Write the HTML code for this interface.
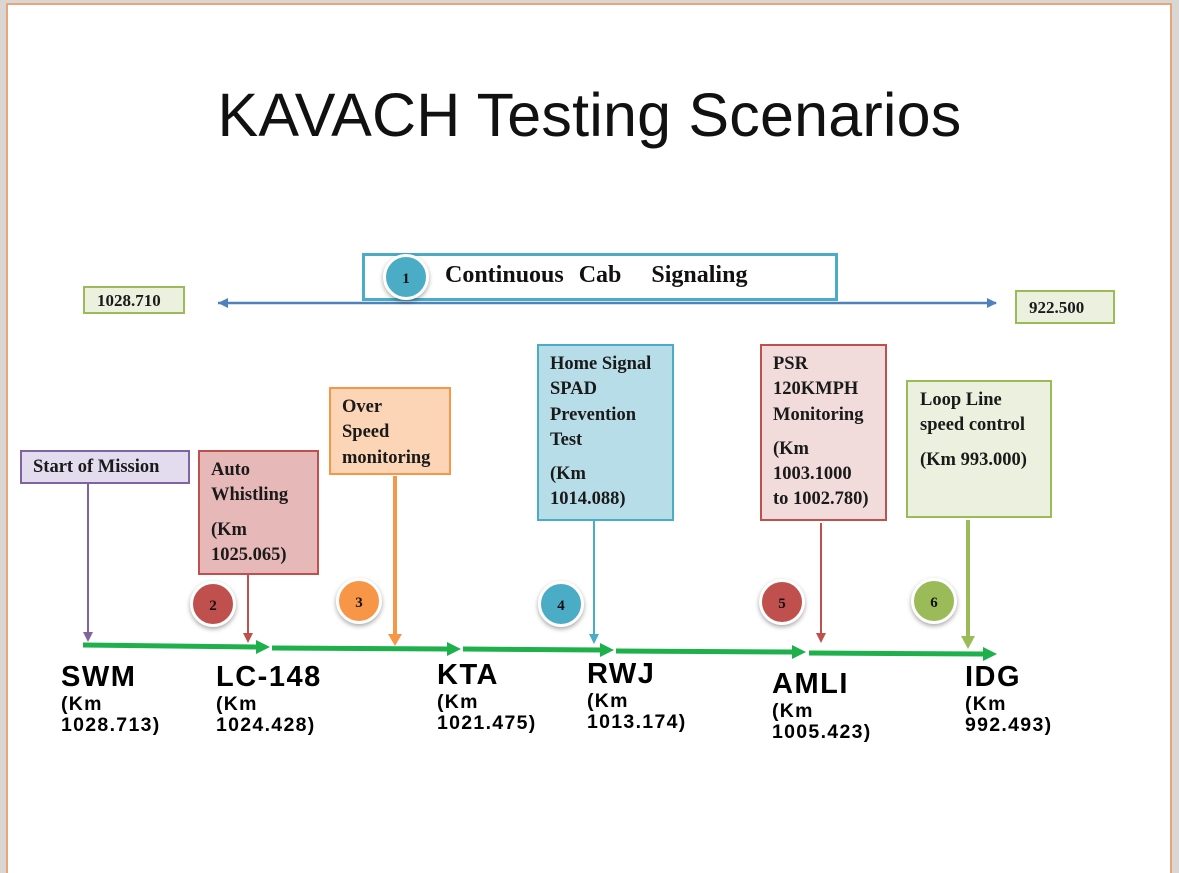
<!DOCTYPE html>
<html><head><meta charset="utf-8"><style>
*{margin:0;padding:0;box-sizing:border-box}
body{width:1179px;height:860px;background:#d9d6d4;position:relative;overflow:hidden;font-family:"Liberation Serif",serif}
#page{position:absolute;left:6px;top:3px;width:1166px;height:870px;background:#fff;border:2px solid #e8a57a;border-bottom:none}
.a{position:absolute}
.box{position:absolute;font-weight:bold;font-size:18.5px;line-height:25.3px;padding:5px 11px;color:#1a1a1a;white-space:nowrap}
.st{position:absolute;font-family:"Liberation Sans",sans-serif;font-weight:bold;color:#000}
.st b{display:block;font-size:29px;line-height:34px;letter-spacing:1.5px}
.st i{display:block;font-style:normal;font-size:19.5px;line-height:21px;letter-spacing:1.3px}
.num{position:absolute;width:46px;height:46px;border-radius:50%;border:3px solid #fff;box-shadow:0 2px 5px rgba(0,0,0,.35);color:#111;font-weight:bold;font-size:15px;text-align:center;line-height:44px}
</style></head><body>
<div id="page"></div>
<div class="a" style="left:0;top:80px;width:1179px;text-align:center;font-family:'Liberation Sans',sans-serif;font-size:61px;color:#111;letter-spacing:0.2px">KAVACH Testing Scenarios</div>

<svg class="a" style="left:0;top:0" width="1179" height="860">
<line x1="218" y1="303" x2="996" y2="303" stroke="#4f81bd" stroke-width="2.5"/>
<path d="M218,303 l10,-5 v10z" fill="#4f81bd"/><path d="M997,303 l-10,-5 v10z" fill="#4f81bd"/>
<g stroke="#1db04b" stroke-width="5" fill="#1db04b">
<line x1="83" y1="645" x2="258" y2="647"/><path d="M270,647 l-14,-7 v14z" stroke="none"/>
<line x1="272" y1="648" x2="448" y2="649"/><path d="M461,649 l-14,-7 v14z" stroke="none"/>
<line x1="463" y1="649" x2="602" y2="650"/><path d="M614,650 l-14,-7 v14z" stroke="none"/>
<line x1="616" y1="651" x2="793" y2="652"/><path d="M806,652 l-14,-7 v14z" stroke="none"/>
<line x1="809" y1="653" x2="983" y2="654"/><path d="M997,654 l-14,-7 v14z" stroke="none"/>
</g>
<g>
<line x1="88" y1="483" x2="88" y2="633" stroke="#8064a2" stroke-width="2"/><path d="M88,642 l-5,-10 h10z" fill="#8064a2"/>
<line x1="248" y1="574" x2="248" y2="634" stroke="#c0504d" stroke-width="2"/><path d="M248,643 l-5,-10 h10z" fill="#c0504d"/>
<line x1="395" y1="476" x2="395" y2="634" stroke="#f79646" stroke-width="4"/><path d="M395,646 l-7,-12 h14z" fill="#f79646"/>
<line x1="594" y1="520" x2="594" y2="634" stroke="#4bacc6" stroke-width="2"/><path d="M594,644 l-5,-10 h10z" fill="#4bacc6"/>
<line x1="821" y1="523" x2="821" y2="634" stroke="#c0504d" stroke-width="2"/><path d="M821,643 l-5,-10 h10z" fill="#c0504d"/>
<line x1="968" y1="520" x2="968" y2="636" stroke="#9bbb59" stroke-width="4"/><path d="M968,649 l-7,-13 h14z" fill="#9bbb59"/>
</g>
</svg>

<div class="a" style="left:362px;top:253px;width:476px;height:48px;border:3px solid #4bacc6;background:#fff"></div>
<div class="a" style="left:445px;top:262px;font-weight:bold;font-size:24px;color:#111;word-spacing:9px;white-space:nowrap">Continuous Cab &nbsp;Signaling</div>
<div class="num" style="left:383px;top:254px;background:#4bacc6">1</div>

<div class="box" style="left:83px;top:286px;width:102px;height:28px;border:2px solid #9bbb59;background:#ebf1de;font-size:17px;line-height:14px;padding:6px 12px">1028.710</div>
<div class="box" style="left:1015px;top:290px;width:100px;height:34px;border:2px solid #9bbb59;background:#ebf1de;font-size:17px;line-height:20px;padding:6px 12px">922.500</div>

<div class="box" style="left:20px;top:450px;width:170px;height:34px;border:2px solid #8064a2;background:#e3dcee;padding:3px 11px">Start of Mission</div>
<div class="box" style="left:198px;top:450px;width:121px;height:125px;border:2px solid #c0504d;background:#e6b9b8;padding:6px 11px">Auto<br>Whistling<div style="margin-top:9px">(Km<br>1025.065)</div></div>
<div class="box" style="left:329px;top:387px;width:122px;height:88px;border:2px solid #f79646;background:#fbd5b5;padding:6px 11px">Over<br>Speed<br>monitoring</div>
<div class="box" style="left:537px;top:344px;width:137px;height:177px;border:2px solid #4bacc6;background:#b7dee8;padding:6px 11px">Home Signal<br>SPAD<br>Prevention<br>Test<div style="margin-top:9px">(Km<br>1014.088)</div></div>
<div class="box" style="left:760px;top:344px;width:127px;height:177px;border:2px solid #c0504d;background:#f2dcdb;padding:6px 11px">PSR<br>120KMPH<br>Monitoring<div style="margin-top:9px">(Km<br>1003.1000<br>to 1002.780)</div></div>
<div class="box" style="left:906px;top:380px;width:146px;height:138px;border:2px solid #9bbb59;background:#ebf1de;padding:6px 12px">Loop Line<br>speed control<div style="margin-top:9px">(Km 993.000)</div></div>

<div class="num" style="left:190px;top:581px;background:#c0504d">2</div>
<div class="num" style="left:336px;top:578px;background:#f79646">3</div>
<div class="num" style="left:538px;top:581px;background:#4bacc6">4</div>
<div class="num" style="left:759px;top:579px;background:#c0504d">5</div>
<div class="num" style="left:911px;top:578px;background:#9bbb59">6</div>

<div class="st" style="left:61px;top:660px"><b>SWM</b><i>(Km</i><i>1028.713)</i></div>
<div class="st" style="left:216px;top:660px"><b>LC-148</b><i>(Km</i><i>1024.428)</i></div>
<div class="st" style="left:437px;top:658px"><b>KTA</b><i>(Km</i><i>1021.475)</i></div>
<div class="st" style="left:587px;top:657px"><b>RWJ</b><i>(Km</i><i>1013.174)</i></div>
<div class="st" style="left:772px;top:667px"><b>AMLI</b><i>(Km</i><i>1005.423)</i></div>
<div class="st" style="left:965px;top:660px"><b>IDG</b><i>(Km</i><i>992.493)</i></div>
</body></html>
